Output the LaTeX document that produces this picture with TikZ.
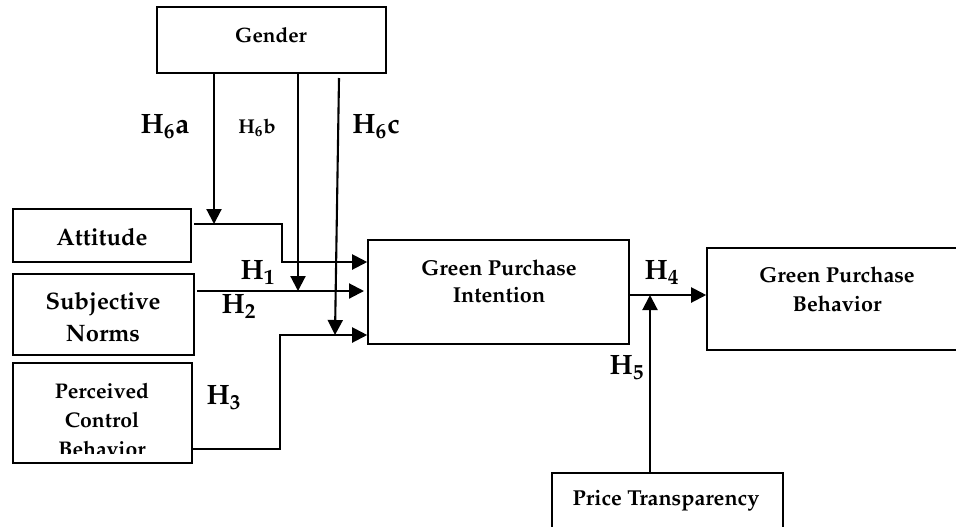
\documentclass[tikz,border=0pt]{standalone}
\usepackage[T1]{fontenc}
\usepackage{mathpazo}
\usetikzlibrary{arrows.meta,calc}
\begin{document}
\begin{tikzpicture}[x=0.5pt,y=-0.5pt,
  box/.style={draw,line width=0.8pt,inner sep=0pt},
  conn/.style={line width=1.05pt,-{Triangle[length=7.5pt,width=7.5pt]}},
  txt/.style={font=\fontsize{10.8}{16}\selectfont\bfseries,align=center,inner sep=0pt},
  hyp/.style={font=\fontsize{14}{16}\selectfont\bfseries,inner sep=0pt},
  hypsmall/.style={font=\fontsize{10}{12}\selectfont\bfseries,inner sep=0pt}]
\useasboundingbox (0,0) rectangle (956,526);
\begin{scope}
\clip (0,0) rectangle (956,526);
% boxes
\node[box,minimum width=114.5pt,minimum height=33pt] (gender) at (271.5,40) {};
\node[box,minimum width=89pt,minimum height=26.5pt] (att) at (102,235.5) {};
\node[box,minimum width=90.5pt,minimum height=40.5pt] (subj) at (103.5,314.5) {};
\node[box,minimum width=89.5pt,minimum height=50pt] (pcb) at (102.5,413) {};
\node[box,minimum width=130.5pt,minimum height=52pt] (gpi) at (498.5,292) {};
\node[box,minimum width=130pt,minimum height=51pt] (gpb) at (837,299) {};
\node[box,minimum width=115.5pt,minimum height=33.5pt] (price) at (667.5,506.5) {};
% texts
\node[txt,font=\fontsize{10.4}{16}\selectfont\bfseries] (tgender) at (271,35) {Gender};
\node[txt,font=\fontsize{11.9}{16}\selectfont\bfseries] (tatt) at (102,237) {Attitude};
\node[txt,font=\fontsize{11.9}{16}\selectfont\bfseries] (tsubj) at (103,317) {Subjective\\Norms};
\begin{scope}
\clip (0,0) rectangle (956,453);
\node[txt,font=\fontsize{10.6}{14.7}\selectfont\bfseries] (tpcb) at (102,420) {Perceived\\Control\\Behavior};
\end{scope}
\node[txt,font=\fontsize{10.8}{13.5}\selectfont\bfseries] (tgpi) at (499,281) {Green Purchase\\Intention};
\node[txt,font=\fontsize{10.8}{14.5}\selectfont\bfseries] (tgpb) at (837,289) {Green Purchase\\Behavior};
\node[txt] (tprice) at (666,501) {Price Transparency};
% junction and bend coordinates
\coordinate (ja) at (214,224);
\coordinate (jb) at (298,291);
\coordinate (jc) at (335,335);
\coordinate (aS) at (194,224);
\coordinate (aB) at (282,262);
\coordinate (sS) at (197,291);
\coordinate (sE) at (364,291);
\coordinate (pS) at (193,449);
\coordinate (pB) at (280,335);
\coordinate (cS) at (339,78);
\coordinate (h4) at (629,295);
\coordinate (h5) at (650,295);
% connectors
\draw[conn] (aS) -| (aB) -- (gpi.west |- aB);
\draw[conn] (sS) -- (sE);
\draw[conn] (pS) -| (pB) -- (gpi.west |- pB);
\draw[conn] (gender.south -| ja) -- (ja);
\draw[conn] (gender.south -| jb) -- (jb);
\draw[conn] (cS) -- (jc);
\draw[conn] (gpi.east |- h4) -- (gpb.west |- h4);
\draw[conn] (price.north -| h5) -- (h5);
% labels
\node[hyp] (l6a) at (165,127) {H\textsubscript{6}a};
\node[hypsmall] (l6b) at (257,128) {H\textsubscript{6}b};
\node[hyp] (l6c) at (376,127) {H\textsubscript{6}c};
\node[hyp] (l1) at (258,273) {H\textsubscript{1}};
\node[hyp] (l2) at (239,307) {H\textsubscript{2}};
\node[hyp] (l3) at (224,398) {H\textsubscript{3}};
\node[hyp] (l4) at (662,273) {H\textsubscript{4}};
\node[hyp] (l5) at (627,368) {H\textsubscript{5}};
\end{scope}
\end{tikzpicture}
\end{document}
